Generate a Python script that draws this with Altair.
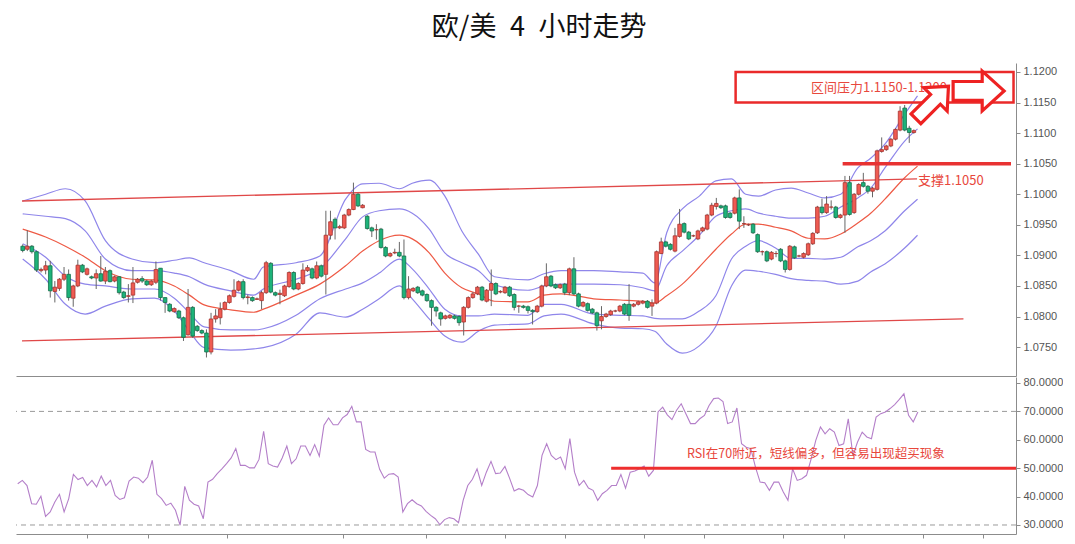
import altair as alt
import pandas as pd

TITLE = "欧/美\u20024\u2002小时走势"

# ---------------- candles (4h EUR/USD) ----------------
opens = [
    1.0915, 1.0910, 1.0915, 1.0906, 1.0875, 1.0876, 1.0883, 1.0841, 1.0846, 1.0861,
    1.0869, 1.0830, 1.0850, 1.0884, 1.0869, 1.0865, 1.0863, 1.0870, 1.0858, 1.0875,
    1.0858, 1.0865, 1.0840, 1.0833, 1.0835, 1.0856, 1.0862, 1.0858, 1.0852, 1.0856,
    1.0879, 1.0831, 1.0820, 1.0808, 1.0809, 1.0798, 1.0770, 1.0815, 1.0784, 1.0777,
    1.0773, 1.0742, 1.0796, 1.0798, 1.0812, 1.0823, 1.0833, 1.0843, 1.0857, 1.0831,
    1.0831, 1.0828, 1.0826, 1.0839, 1.0887, 1.0839, 1.0836, 1.0834, 1.0849, 1.0872,
    1.0845, 1.0854, 1.0875, 1.0878, 1.0863, 1.0883, 1.0869, 1.0933, 1.0959, 1.0945,
    1.0945, 1.0966, 1.0975, 1.1000, 1.0978, 1.0964, 1.0945, 1.0942, 1.0943, 1.0913,
    1.0899, 1.0904, 1.0905, 1.0899, 1.0831, 1.0842, 1.0848, 1.0842, 1.0836, 1.0826,
    1.0815, 1.0806, 1.0797, 1.0798, 1.0801, 1.0800, 1.0791, 1.0815, 1.0831, 1.0837,
    1.0848, 1.0825, 1.0843, 1.0854, 1.0840, 1.0839, 1.0848, 1.0836, 1.0817, 1.0817,
    1.0816, 1.0810, 1.0808, 1.0817, 1.0850, 1.0866, 1.0852, 1.0847, 1.0853, 1.0839,
    1.0878, 1.0837, 1.0817, 1.0821, 1.0812, 1.0806, 1.0793, 1.0800, 1.0803, 1.0809,
    1.0809, 1.0820, 1.0820, 1.0817, 1.0820, 1.0822, 1.0825, 1.0817, 1.0822, 1.0903,
    1.0922, 1.0918, 1.0907, 1.0931, 1.0952, 1.0938, 1.0932, 1.0927, 1.0940, 1.0943,
    1.0966, 1.0980, 1.0981, 1.0981, 1.0969, 1.0969, 1.0994, 1.0952, 1.0950, 1.0951,
    1.0934, 1.0906, 1.0906, 1.0894, 1.0903, 1.0910, 1.0891, 1.0877, 1.0914, 1.0899,
    1.0897, 1.0901, 1.0919, 1.0937, 1.0979, 1.0970, 1.0979, 1.0979, 1.0962, 1.0966,
    1.1019, 1.0970, 1.1000, 1.1019, 1.1013, 1.1005, 1.1008, 1.1070, 1.1073, 1.1079,
    1.1090, 1.1105, 1.1141, 1.1108, 1.1101,
]
closes = [
    1.0908, 1.0915, 1.0906, 1.0876, 1.0877, 1.0883, 1.0842, 1.0848, 1.0861, 1.0869,
    1.0831, 1.0850, 1.0884, 1.0873, 1.0878, 1.0863, 1.0870, 1.0858, 1.0874, 1.0857,
    1.0865, 1.0839, 1.0831, 1.0834, 1.0855, 1.0861, 1.0858, 1.0852, 1.0858, 1.0877,
    1.0831, 1.0823, 1.0809, 1.0813, 1.0798, 1.0766, 1.0815, 1.0768, 1.0777, 1.0773,
    1.0742, 1.0796, 1.0801, 1.0812, 1.0823, 1.0834, 1.0843, 1.0857, 1.0831, 1.0832,
    1.0826, 1.0829, 1.0839, 1.0888, 1.0840, 1.0835, 1.0838, 1.0850, 1.0872, 1.0845,
    1.0854, 1.0876, 1.0880, 1.0863, 1.0883, 1.0866, 1.0933, 1.0955, 1.0945, 1.0947,
    1.0966, 1.0975, 1.1000, 1.0981, 1.0982, 1.0944, 1.0940, 1.0942, 1.0913, 1.0899,
    1.0903, 1.0905, 1.0899, 1.0831, 1.0845, 1.0846, 1.0839, 1.0835, 1.0826, 1.0815,
    1.0809, 1.0796, 1.0801, 1.0802, 1.0797, 1.0790, 1.0815, 1.0831, 1.0837, 1.0848,
    1.0827, 1.0843, 1.0854, 1.0837, 1.0841, 1.0848, 1.0834, 1.0815, 1.0817, 1.0815,
    1.0810, 1.0808, 1.0817, 1.0850, 1.0865, 1.0850, 1.0847, 1.0852, 1.0839, 1.0878,
    1.0837, 1.0817, 1.0823, 1.0810, 1.0806, 1.0785, 1.0800, 1.0804, 1.0809, 1.0809,
    1.0817, 1.0804, 1.0802, 1.0820, 1.0824, 1.0825, 1.0815, 1.0822, 1.0906, 1.0922,
    1.0915, 1.0910, 1.0932, 1.0951, 1.0938, 1.0927, 1.0932, 1.0940, 1.0945, 1.0966,
    1.0982, 1.0985, 1.0978, 1.0962, 1.0962, 1.0994, 1.0956, 1.0952, 1.0950, 1.0937,
    1.0906, 1.0906, 1.0891, 1.0905, 1.0903, 1.0891, 1.0877, 1.0915, 1.0896, 1.0899,
    1.0903, 1.0919, 1.0936, 1.0979, 1.0970, 1.0984, 1.0979, 1.0962, 1.0966, 1.1019,
    1.0967, 1.1000, 1.1016, 1.1013, 1.1005, 1.1010, 1.1071, 1.1073, 1.1079, 1.1090,
    1.1106, 1.1136, 1.1105, 1.1101, 1.1104,
]
highs = [
    1.0918, 1.0941, 1.0917, 1.0908, 1.0880, 1.0891, 1.0891, 1.0858, 1.0863, 1.0881,
    1.0877, 1.0852, 1.0893, 1.0886, 1.0880, 1.0867, 1.0877, 1.0899, 1.0881, 1.0877,
    1.0867, 1.0866, 1.0842, 1.0853, 1.0881, 1.0863, 1.0866, 1.0860, 1.0860, 1.0890,
    1.0879, 1.0831, 1.0822, 1.0815, 1.0811, 1.0800, 1.0845, 1.0817, 1.0786, 1.0779,
    1.0779, 1.0806, 1.0812, 1.0823, 1.0825, 1.0836, 1.0861, 1.0859, 1.0861, 1.0836,
    1.0833, 1.0831, 1.0842, 1.0891, 1.0889, 1.0841, 1.0844, 1.0852, 1.0874, 1.0874,
    1.0856, 1.0887, 1.0884, 1.0880, 1.0890, 1.0885, 1.0973, 1.0973, 1.0962, 1.0950,
    1.0968, 1.0977, 1.1019, 1.1002, 1.0984, 1.0966, 1.0947, 1.0951, 1.0945, 1.0915,
    1.0905, 1.0911, 1.0922, 1.0926, 1.0866, 1.0848, 1.0850, 1.0844, 1.0838, 1.0828,
    1.0817, 1.0808, 1.0803, 1.0804, 1.0803, 1.0802, 1.0817, 1.0833, 1.0840, 1.0850,
    1.0850, 1.0845, 1.0877, 1.0856, 1.0843, 1.0850, 1.0850, 1.0838, 1.0819, 1.0819,
    1.0818, 1.0812, 1.0819, 1.0852, 1.0887, 1.0868, 1.0854, 1.0854, 1.0855, 1.0880,
    1.0897, 1.0839, 1.0825, 1.0823, 1.0814, 1.0808, 1.0817, 1.0806, 1.0811, 1.0811,
    1.0819, 1.0822, 1.0853, 1.0822, 1.0826, 1.0827, 1.0827, 1.0828, 1.0908, 1.0929,
    1.0924, 1.0920, 1.0945, 1.0976, 1.0954, 1.0940, 1.0934, 1.0942, 1.0947, 1.0968,
    1.0986, 1.0994, 1.0983, 1.0983, 1.0971, 1.0996, 1.1008, 1.0964, 1.0952, 1.0953,
    1.0936, 1.0908, 1.0908, 1.0907, 1.0907, 1.0912, 1.0893, 1.0917, 1.0916, 1.0901,
    1.0905, 1.0921, 1.0938, 1.0981, 1.0993, 1.0997, 1.0990, 1.0981, 1.0968, 1.1030,
    1.1030, 1.1002, 1.1018, 1.1035, 1.1015, 1.1012, 1.1073, 1.1093, 1.1081, 1.1092,
    1.1108, 1.1144, 1.1146, 1.1112, 1.1106,
]
lows = [
    1.0905, 1.0907, 1.0903, 1.0873, 1.0872, 1.0869, 1.0831, 1.0823, 1.0842, 1.0858,
    1.0826, 1.0816, 1.0848, 1.0871, 1.0867, 1.0861, 1.0845, 1.0857, 1.0853, 1.0856,
    1.0856, 1.0836, 1.0829, 1.0823, 1.0822, 1.0854, 1.0855, 1.0850, 1.0850, 1.0853,
    1.0826, 1.0806, 1.0807, 1.0806, 1.0796, 1.0760, 1.0769, 1.0765, 1.0775, 1.0771,
    1.0733, 1.0738, 1.0790, 1.0787, 1.0810, 1.0821, 1.0831, 1.0841, 1.0828, 1.0820,
    1.0824, 1.0827, 1.0812, 1.0837, 1.0838, 1.0833, 1.0820, 1.0832, 1.0847, 1.0843,
    1.0843, 1.0852, 1.0873, 1.0861, 1.0861, 1.0864, 1.0836, 1.0926, 1.0926, 1.0943,
    1.0943, 1.0964, 1.0974, 1.0979, 1.0977, 1.0942, 1.0930, 1.0926, 1.0911, 1.0897,
    1.0897, 1.0902, 1.0897, 1.0828, 1.0828, 1.0840, 1.0837, 1.0833, 1.0824, 1.0785,
    1.0800, 1.0785, 1.0795, 1.0796, 1.0795, 1.0785, 1.0769, 1.0813, 1.0829, 1.0835,
    1.0825, 1.0823, 1.0817, 1.0835, 1.0838, 1.0837, 1.0832, 1.0810, 1.0806, 1.0813,
    1.0805, 1.0787, 1.0806, 1.0815, 1.0848, 1.0848, 1.0845, 1.0845, 1.0835, 1.0835,
    1.0835, 1.0815, 1.0815, 1.0808, 1.0804, 1.0777, 1.0779, 1.0798, 1.0801, 1.0807,
    1.0807, 1.0802, 1.0793, 1.0815, 1.0818, 1.0820, 1.0813, 1.0801, 1.0820, 1.0902,
    1.0913, 1.0908, 1.0905, 1.0929, 1.0936, 1.0925, 1.0930, 1.0925, 1.0938, 1.0941,
    1.0964, 1.0975, 1.0976, 1.0960, 1.0960, 1.0967, 1.0943, 1.0945, 1.0948, 1.0935,
    1.0904, 1.0900, 1.0889, 1.0892, 1.0897, 1.0889, 1.0872, 1.0875, 1.0894, 1.0897,
    1.0895, 1.0899, 1.0917, 1.0935, 1.0967, 1.0968, 1.0975, 1.0960, 1.0960, 1.0937,
    1.0965, 1.0968, 1.0998, 1.1011, 1.1001, 1.0995, 1.1006, 1.1068, 1.1071, 1.1077,
    1.1088, 1.1103, 1.1103, 1.1084, 1.1099,
]

# ---------------- RSI ----------------
rsi = [
    44.5, 45.7, 43.9, 37.5, 37.3, 40.1, 33.0, 34.6, 38.1, 40.8,
    34.6, 39.3, 47.8, 46.0, 46.7, 43.9, 45.7, 43.4, 47.2, 43.9,
    45.7, 40.4, 39.0, 39.6, 45.5, 46.9, 46.5, 44.9, 46.9, 52.8,
    40.8, 39.3, 36.9, 37.7, 35.2, 29.9, 43.6, 38.7, 37.3, 36.7,
    32.2, 45.1, 46.1, 48.1, 49.8, 51.6, 53.6, 56.9, 51.0, 51.0,
    50.1, 50.1, 53.1, 63.0, 51.6, 50.8, 50.4, 53.6, 57.8, 51.6,
    53.3, 57.8, 57.8, 54.5, 58.3, 54.2, 65.1, 67.7, 65.3, 65.3,
    67.7, 68.9, 71.8, 66.3, 66.3, 56.6, 55.7, 55.7, 49.6, 46.5,
    47.9, 48.1, 46.9, 34.6, 37.5, 38.9, 37.5, 36.7, 34.8, 33.4,
    32.2, 30.1, 31.9, 32.6, 32.2, 30.8, 38.7, 43.9, 46.1, 49.8,
    43.9, 48.6, 52.4, 48.1, 48.3, 50.6, 46.5, 42.0, 42.8, 42.2,
    40.7, 39.9, 43.9, 54.5, 58.6, 54.5, 53.0, 53.9, 49.8, 60.4,
    48.6, 43.9, 45.7, 43.0, 42.2, 38.7, 41.0, 42.2, 43.9, 43.9,
    47.8, 43.0, 48.6, 49.0, 49.8, 50.8, 47.2, 49.2, 69.8, 71.5,
    68.8, 67.1, 70.4, 72.7, 69.2, 65.7, 65.7, 67.4, 68.6, 72.1,
    74.5, 74.7, 73.5, 65.7, 66.3, 71.2, 58.6, 57.4, 56.9, 50.4,
    45.1, 44.9, 42.2, 45.1, 45.1, 41.6, 38.7, 49.8, 45.7, 46.3,
    47.5, 53.3, 59.8, 64.5, 62.1, 63.9, 62.7, 58.0, 58.6, 67.4,
    54.5, 59.2, 62.7, 61.0, 60.4, 68.0, 69.2, 69.8, 71.0, 72.4,
    74.2, 76.2, 68.6, 66.3, 69.8,
]

# ---------------- Bollinger bands (read at sample candles) ----------------
band_idx = [
    1.0, 6.0, 10.3, 14.6, 19.0, 24.8, 29.7, 34.0, 37.3, 40.5,
    46.3, 51.3, 53.4, 60.5, 65.7, 71.3, 75.0, 78.6, 83.0, 85.8,
    89.5, 92.9, 96.6, 100.2, 103.7, 111.0, 114.5, 118.2, 125.3, 131.1,
    136.0, 138.6, 141.2, 144.6, 148.3, 151.9, 155.3, 158.4, 161.2, 164.9,
    168.3, 172.0, 175.6, 179.1, 182.8, 185.6, 188.7, 193.0, 195.8,
]
band_outer_up = [
    1.0989, 1.1000, 1.1009, 1.0989, 1.0924, 1.0894, 1.0888, 1.0892, 1.0896, 1.0888,
    1.0875, 1.0861, 1.0881, 1.0888, 1.0899, 1.0992, 1.1017, 1.1018, 1.1009, 1.1018,
    1.1023, 1.0997, 1.0940, 1.0902, 1.0865, 1.0860, 1.0870, 1.0875, 1.0875, 1.0873,
    1.0871, 1.0855, 1.0937, 1.0976, 1.0997, 1.1022, 1.1025, 1.1000, 1.0997, 1.1007,
    1.1010, 1.1002, 1.0994, 1.1000, 1.1043, 1.1059, 1.1082, 1.1131, 1.1161,
]
band_inner_up = [
    1.0968, 1.0964, 1.0960, 1.0940, 1.0894, 1.0875, 1.0875, 1.0871, 1.0865, 1.0853,
    1.0842, 1.0835, 1.0845, 1.0861, 1.0878, 1.0927, 1.0963, 1.0973, 1.0976, 1.0969,
    1.0943, 1.0904, 1.0888, 1.0875, 1.0852, 1.0843, 1.0850, 1.0853, 1.0853, 1.0852,
    1.0847, 1.0842, 1.0883, 1.0907, 1.0933, 1.0964, 1.0973, 1.0976, 1.0969, 1.0964,
    1.0961, 1.0961, 1.0964, 1.0979, 1.0994, 1.1010, 1.1043, 1.1087, 1.1107,
]
band_mid = [
    1.0943, 1.0930, 1.0915, 1.0897, 1.0875, 1.0861, 1.0860, 1.0850, 1.0835, 1.0819,
    1.0811, 1.0807, 1.0812, 1.0835, 1.0853, 1.0883, 1.0907, 1.0924, 1.0933, 1.0927,
    1.0904, 1.0871, 1.0847, 1.0837, 1.0825, 1.0824, 1.0835, 1.0837, 1.0829, 1.0827,
    1.0825, 1.0822, 1.0834, 1.0853, 1.0881, 1.0910, 1.0935, 1.0951, 1.0951, 1.0946,
    1.0940, 1.0928, 1.0927, 1.0935, 1.0953, 1.0969, 1.0992, 1.1027, 1.1046,
]
band_inner_lo = [
    1.0919, 1.0897, 1.0866, 1.0853, 1.0850, 1.0845, 1.0845, 1.0830, 1.0806, 1.0783,
    1.0778, 1.0778, 1.0780, 1.0802, 1.0829, 1.0845, 1.0855, 1.0871, 1.0894, 1.0878,
    1.0845, 1.0812, 1.0801, 1.0801, 1.0804, 1.0802, 1.0820, 1.0820, 1.0804, 1.0802,
    1.0801, 1.0797, 1.0796, 1.0796, 1.0809, 1.0834, 1.0894, 1.0915, 1.0924, 1.0912,
    1.0895, 1.0895, 1.0894, 1.0897, 1.0914, 1.0924, 1.0940, 1.0973, 1.0992,
]
band_outer_lo = [
    1.0894, 1.0861, 1.0820, 1.0804, 1.0817, 1.0829, 1.0830, 1.0809, 1.0776, 1.0749,
    1.0745, 1.0747, 1.0749, 1.0771, 1.0806, 1.0799, 1.0812, 1.0829, 1.0850, 1.0829,
    1.0796, 1.0768, 1.0758, 1.0776, 1.0786, 1.0788, 1.0801, 1.0804, 1.0788, 1.0781,
    1.0780, 1.0776, 1.0755, 1.0740, 1.0752, 1.0784, 1.0850, 1.0876, 1.0874, 1.0869,
    1.0862, 1.0859, 1.0858, 1.0853, 1.0858, 1.0873, 1.0886, 1.0912, 1.0933,
]

# ---------------- annotations ----------------
channel_names = ["upper", "upper", "lower", "lower"]
channel_idx = [0.85, 195.7, 0.85, 205.8]
channel_price = [1.0989, 1.1025, 1.0760, 1.0796]

support_level = 1.1050
support_span = [179.5, 216.15]
zone_price = [1.1150, 1.1200]
zone_span = [156.2, 216.7]

zone_label = "区间压力1.1150-1.1200"
zone_label_pos = [172.6, 1.1174]
support_label = "支撑1.1050"
support_label_pos = [195.9, 1.1022]

arrow_small_pos = [199.0, 1.1150]
arrow_big_pos = [209.1, 1.1169]

price_ticks = [1.0750, 1.0800, 1.0850, 1.0900, 1.0950, 1.1000, 1.1050, 1.1100, 1.1150, 1.1200]
rsi_ticks = [30, 40, 50, 60, 70, 80]
rsi_levels = [70, 30]
rsi_mid = 50
rsi_mid_span = [128.9, 216.15]
rsi_label = "RSI在70附近，短线偏多，但容易出现超买现象"
rsi_label_pos = [173.0, 55.0]
session_ticks = [16, 29, 46, 71, 89, 106, 119, 136, 149, 166, 179, 196, 209]

# ---------------- frames ----------------
idx = list(range(1, len(closes) + 1))
candles = pd.DataFrame({"i": idx, "o": opens, "h": highs, "l": lows, "c": closes})
candles["dir"] = ["up" if c >= o else "down" for o, c in zip(opens, closes)]
up_candles = candles[candles["dir"] == "up"]
down_candles = candles[candles["dir"] == "down"]

band_rows = []
for name, vals in [("ou", band_outer_up), ("iu", band_inner_up),
                   ("il", band_inner_lo), ("ol", band_outer_lo)]:
    for i, v in zip(band_idx, vals):
        band_rows.append({"i": i, "p": v, "band": name})
bands_df = pd.DataFrame(band_rows)
mid_band_df = pd.DataFrame({"i": band_idx, "p": band_mid})

channel_df = pd.DataFrame({"line": channel_names, "i": channel_idx, "p": channel_price})
rsi_df = pd.DataFrame({"i": idx, "v": rsi})

FONT_CJK = "Noto Sans CJK SC"
RED_TXT = "#e8473c"

XS = alt.Scale(domain=[0.63, 216.15], nice=False, zero=False)
YS = alt.Scale(domain=[1.07027, 1.12147], nice=False, zero=False)
RS = alt.Scale(domain=[26.83, 82.11], nice=False, zero=False)

AX_MAIN = alt.Axis(title=None, labels=False, ticks=False, grid=False, domain=True)
AY_MAIN = alt.Axis(orient="right", values=price_ticks, format=".4f", title=None,
                   tickSize=4, labelPadding=3, grid=False)
AX_RSI = alt.Axis(title=None, labels=False, values=session_ticks, tickSize=4, grid=False)
AY_RSI = alt.Axis(orient="right", values=rsi_ticks, format=".4f", title=None,
                  tickSize=4, labelPadding=3, grid=False)


def xm(field="i"):
    return alt.X(field, type="quantitative", scale=XS, axis=AX_MAIN)


def ym(field="p"):
    return alt.Y(field, type="quantitative", scale=YS, axis=AY_MAIN)


def xr(field="i"):
    return alt.X(field, type="quantitative", scale=XS, axis=AX_RSI)


def yr(field="v"):
    return alt.Y(field, type="quantitative", scale=RS, axis=AY_RSI)


bands = alt.Chart(bands_df).mark_line(
    strokeWidth=1.2, interpolate="monotone", color="#8f86ea"
).encode(x=xm(), y=ym(), detail="band:N")

mid_band = alt.Chart(mid_band_df).mark_line(
    strokeWidth=1.2, interpolate="monotone", color="#ee5a45"
).encode(x=xm(), y=ym())

channels = alt.Chart(channel_df).mark_line(color="#e04848", strokeWidth=1.3).encode(
    x=xm(), y=ym(), detail="line:N"
)

wicks = alt.Chart(candles).mark_rule(color="#666666", strokeWidth=1).encode(
    x=xm(), y=ym("l"), y2=alt.Y2("h")
)

bodies_up = alt.Chart(up_candles).mark_bar(
    size=3.6, strokeWidth=0.8, fill="#ef5b52", stroke="#a8342e"
).encode(x=xm(), y=ym("o"), y2=alt.Y2("c"))

bodies_down = alt.Chart(down_candles).mark_bar(
    size=3.6, strokeWidth=0.8, fill="#1db37a", stroke="#146f4a"
).encode(x=xm(), y=ym("o"), y2=alt.Y2("c"))

support_df = pd.DataFrame({"i": [support_span[0]], "i2": [support_span[1]], "p": [support_level]})
support = alt.Chart(support_df).mark_rule(color="#e83232", strokeWidth=3.5).encode(
    x=xm(), x2=alt.X2("i2"), y=ym()
)

zone_df = pd.DataFrame({"i": [zone_span[0]], "i2": [zone_span[1]],
                        "p": [zone_price[0]], "p2": [zone_price[1]]})
zone = alt.Chart(zone_df).mark_rect(fillOpacity=0, stroke="#ea2a2a", strokeWidth=2.5).encode(
    x=xm(), x2=alt.X2("i2"), y=ym(), y2=alt.Y2("p2")
)

labels_df = pd.DataFrame({
    "i": [zone_label_pos[0], support_label_pos[0]],
    "p": [zone_label_pos[1], support_label_pos[1]],
    "t": [zone_label, support_label],
})
labels = alt.Chart(labels_df).mark_text(
    align="left", baseline="middle", font=FONT_CJK, fontSize=13, color=RED_TXT
).encode(x=xm(), y=ym(), text="t:N")

BIG_ARROW = "M-1,-0.37L0.14,-0.37L0.14,-0.78L1,0L0.14,0.78L0.14,0.37L-1,0.37Z"
SMALL_ARROW = "M-1,-0.3L0.2,-0.3L0.2,-0.72L1,0L0.2,0.72L0.2,0.3L-1,0.3Z"

arrow_big = alt.Chart(pd.DataFrame({"i": [arrow_big_pos[0]], "p": [arrow_big_pos[1]]})).mark_point(
    shape=BIG_ARROW, size=2601, filled=True, fill="white", stroke="#ee2222",
    strokeWidth=3.2, opacity=1
).encode(x=xm(), y=ym())

arrow_small = alt.Chart(pd.DataFrame({"i": [arrow_small_pos[0]], "p": [arrow_small_pos[1]]})).mark_point(
    shape=SMALL_ARROW, size=2116, angle=315, filled=True, fill="white", stroke="#ee2222",
    strokeWidth=3.2, opacity=1
).encode(x=xm(), y=ym())

main = alt.layer(
    bands, mid_band, channels, wicks, bodies_up, bodies_down, support, zone, labels,
    arrow_small, arrow_big
).properties(width=1000, height=313)

# ---------------- RSI panel ----------------
levels = alt.Chart(pd.DataFrame({"v": rsi_levels})).mark_rule(
    color="#9a9a9a", strokeWidth=1, strokeDash=[5, 4]
).encode(y=yr())

rsi_line = alt.Chart(rsi_df).mark_line(color="#b47fc9", strokeWidth=1.1).encode(x=xr(), y=yr())

mid_df = pd.DataFrame({"i": [rsi_mid_span[0]], "i2": [rsi_mid_span[1]], "v": [rsi_mid]})
rsi_mid_line = alt.Chart(mid_df).mark_rule(color="#ee2e2e", strokeWidth=3).encode(
    x=xr(), x2=alt.X2("i2"), y=yr()
)

rsi_text = alt.Chart(pd.DataFrame({"i": [rsi_label_pos[0]], "v": [rsi_label_pos[1]],
                                   "t": [rsi_label]})).mark_text(
    align="center", baseline="middle", font=FONT_CJK, fontSize=12.5, color=RED_TXT
).encode(x=xr(), y=yr(), text="t:N")

rsi_panel = alt.layer(levels, rsi_line, rsi_mid_line, rsi_text).properties(width=1000, height=157)

chart = alt.vconcat(main, rsi_panel, spacing=0).properties(
    title=alt.TitleParams(TITLE, fontSize=27, font=FONT_CJK, fontWeight="normal",
                          color="#111111", anchor="middle", offset=21),
    padding={"left": 7, "right": 0, "top": 6, "bottom": 0},
    background="white",
).configure_view(strokeWidth=0).configure_axis(
    labelFont="Liberation Sans", labelFontSize=11, labelColor="#555555",
    domainColor="#8c8c8c", tickColor="#8c8c8c", grid=False
)

chart.save("out.html", embed_options={"renderer": "svg", "actions": False})
